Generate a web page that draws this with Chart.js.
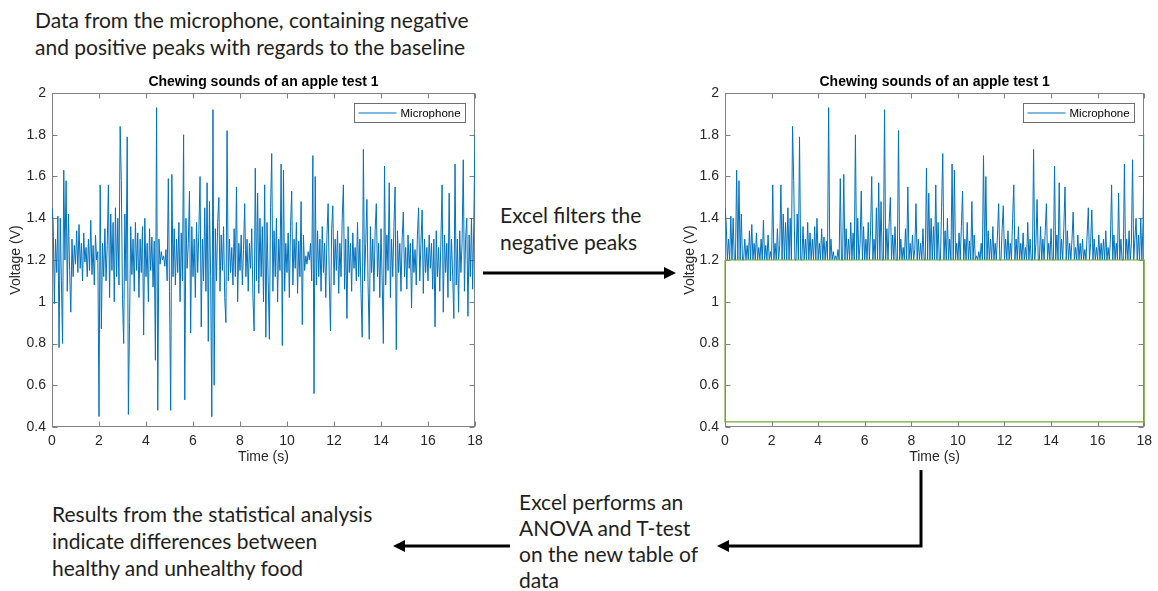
<!DOCTYPE html>
<html>
<head>
<meta charset="utf-8">
<script src="https://cdn.jsdelivr.net/npm/chart.js@4.4.1/dist/chart.umd.min.js"></script>
<style>
  html, body { margin: 0; padding: 0; background: #fff; }
  #page { position: relative; width: 1158px; height: 591px; overflow: hidden; }
  .chart { position: absolute; }
  .note { position: absolute; font-family: Lato, "Open Sans", sans-serif; font-size: 21px; line-height: 27px; color: #1e1e1e; white-space: nowrap; }
  svg { position: absolute; left: 0; top: 0; }
</style>
</head>
<body>
<div id="page">
  <canvas id="rawChart" class="chart" width="490" height="400" style="left:0; top:70px;"></canvas>
  <canvas id="filteredChart" class="chart" width="488" height="400" style="left:670px; top:70px;"></canvas>

  <div class="note" style="left:35px; top:6px;">Data from the microphone, containing negative<br>and positive peaks with regards to the baseline</div>
  <div class="note" style="left:500px; top:201px;">Excel filters the<br>negative peaks</div>
  <div class="note" style="left:519px; top:489px; line-height:26px;">Excel performs an<br>ANOVA and T-test<br>on the new table of<br>data</div>
  <div class="note" style="left:52px; top:500px;">Results from the statistical analysis<br>indicate differences between<br>healthy and unhealthy food</div>

  <svg width="1158" height="591">
    <g stroke="#000" stroke-width="3" fill="none">
      <line x1="483" y1="273" x2="666" y2="273"/>
      <polyline points="921,470 921,546 728,546"/>
      <line x1="510" y1="546" x2="404" y2="546"/>
    </g>
    <g fill="#000">
      <polygon points="676,273 664,267 664,279"/>
      <polygon points="717,546 729,540 729,552"/>
      <polygon points="393,546 405,540 405,552"/>
    </g>
  </svg>
</div>

<script>
// microphone voltage, one value every 0.05 s from 0 to 18 s
const sampleStep = 0.05;
const rawVoltage = [
  1.45, 1.38, 0.99, 1.30, 1.14, 1.41, 0.78, 1.40, 1.10, 0.80, 1.63, 1.20, 1.58, 1.05, 1.42, 1.15, 0.95, 1.30, 1.12, 1.27,
  1.18, 1.34, 1.14, 1.37, 1.16, 1.28, 1.10, 1.33, 1.19, 1.26, 1.12, 1.30, 1.15, 1.39, 1.13, 1.27, 1.08, 1.32, 1.20, 1.24,
  0.45, 1.56, 0.87, 1.28, 1.12, 1.35, 1.10, 1.27, 1.56, 1.02, 1.42, 1.15, 1.38, 1.00, 1.45, 1.12, 1.40, 1.08, 1.84, 1.58,
  1.01, 0.80, 1.42, 1.10, 1.79, 0.46, 0.90, 1.36, 1.13, 1.30, 1.05, 1.38, 1.15, 1.33, 1.02, 1.30, 1.14, 1.36, 0.84, 1.40,
  1.12, 1.28, 1.00, 1.35, 1.15, 1.31, 1.07, 1.29, 0.72, 1.93, 0.48, 1.30, 1.18, 1.24, 1.20, 1.22, 1.17, 1.25, 1.10, 1.59,
  1.05, 0.48, 1.61, 1.12, 1.35, 1.08, 1.30, 1.14, 1.38, 1.00, 1.33, 1.10, 1.80, 0.53, 1.40, 1.16, 1.28, 1.53, 0.85, 1.36,
  1.12, 1.30, 1.02, 1.38, 1.14, 1.34, 1.60, 0.88, 1.30, 1.10, 1.45, 1.05, 1.57, 0.81, 1.48, 1.12, 0.45, 1.92, 0.60, 1.35,
  1.10, 1.38, 1.50, 1.05, 1.32, 1.15, 1.36, 1.02, 0.90, 1.82, 1.10, 1.30, 1.14, 1.26, 1.08, 1.35, 1.12, 1.55, 1.00, 1.28,
  1.15, 1.32, 1.08, 1.25, 1.47, 1.12, 1.30, 1.05, 1.28, 1.16, 1.35, 1.02, 0.86, 1.64, 1.10, 1.52, 1.04, 1.40, 1.12, 1.36,
  1.00, 1.56, 0.83, 1.38, 1.10, 0.82, 1.45, 1.71, 1.05, 1.34, 1.12, 1.40, 1.00, 1.30, 1.15, 1.66, 0.79, 1.63, 1.05, 1.28,
  1.14, 1.33, 1.02, 1.36, 1.53, 1.08, 1.30, 1.16, 1.38, 1.04, 1.29, 1.12, 1.48, 0.89, 1.32, 1.15, 1.22, 1.18, 1.24, 1.20,
  1.28, 1.10, 1.70, 0.56, 1.60, 1.08, 1.34, 1.12, 1.30, 1.05, 1.36, 1.14, 1.28, 1.02, 1.32, 1.47, 1.10, 0.86, 1.35, 1.46,
  1.08, 1.30, 1.15, 1.34, 1.04, 1.28, 1.12, 1.40, 1.56, 1.06, 1.30, 0.92, 1.36, 1.14, 1.28, 1.05, 1.33, 1.16, 1.26, 1.10,
  1.38, 1.12, 1.30, 1.04, 0.83, 1.73, 1.10, 1.28, 1.49, 1.08, 0.82, 1.36, 1.14, 1.30, 1.05, 1.34, 1.47, 1.12, 1.28, 1.02,
  1.35, 1.10, 0.80, 1.65, 1.08, 1.32, 1.15, 1.57, 1.02, 1.30, 1.12, 1.36, 1.55, 0.77, 1.34, 1.14, 1.28, 1.05, 1.30, 1.43,
  1.12, 1.26, 1.06, 1.32, 1.16, 1.28, 0.97, 1.30, 1.14, 1.25, 1.08, 1.32, 1.45, 1.10, 1.28, 1.44, 1.04, 1.30, 1.14, 1.26,
  1.10, 1.32, 1.16, 1.28, 1.06, 1.30, 0.88, 1.34, 1.12, 1.26, 1.05, 1.30, 1.56, 0.95, 1.32, 1.14, 1.28, 1.02, 1.52, 1.10,
  1.30, 1.12, 0.92, 1.66, 1.08, 1.30, 0.95, 1.34, 1.14, 1.28, 1.68, 1.05, 1.30, 1.40, 0.93, 1.32, 1.12, 1.40, 1.06, 1.38,
  1.80
];
const timeS = rawVoltage.map((_, i) => +(i * sampleStep).toFixed(2));

// Excel filter: everything under the baseline is set to the baseline
const baseline = 1.2;
const filteredVoltage = rawVoltage.map(v => Math.max(v, baseline));

// green outline of the filtered table
const filterBoxX = [0, 18, 18, 0, 0];
const filterBoxY = [1.2, 1.2, 0.425, 0.425, 1.2];

const xTicks = [0, 2, 4, 6, 8, 10, 12, 14, 16, 18];
const yTicks = [0.4, 0.6, 0.8, 1, 1.2, 1.4, 1.6, 1.8, 2];

const chartTitle = "Chewing sounds of an apple test 1";
const AXIS_FONT = "'Liberation Sans', Arial, sans-serif";
const LINE_BLUE = "#0072BD";

function points(xs, ys) {
  return xs.map((x, i) => ({ x: x, y: ys[i] }));
}

// MATLAB look: box round the axes and inward ticks (under the data),
// boxed legend top right (over the data)
const matlabAxes = {
  id: "matlabAxes",
  beforeDatasetsDraw(chart) {
    const { ctx, chartArea: a, scales } = chart;
    const L = 5;
    ctx.save();
    ctx.strokeStyle = "#808080";
    ctx.lineWidth = 1;
    const l = Math.round(a.left) + 0.5, r = Math.round(a.right) - 0.5;
    const t = Math.round(a.top) + 0.5, b = Math.round(a.bottom) - 0.5;
    ctx.strokeRect(l, t, r - l, b - t);
    ctx.beginPath();
    xTicks.forEach(v => {
      const px = Math.round(scales.x.getPixelForValue(v)) + 0.5;
      ctx.moveTo(px, b); ctx.lineTo(px, b - L);
      ctx.moveTo(px, t); ctx.lineTo(px, t + L);
    });
    yTicks.forEach(v => {
      const py = Math.round(scales.y.getPixelForValue(v)) + 0.5;
      ctx.moveTo(l, py); ctx.lineTo(l + L, py);
      ctx.moveTo(r, py); ctx.lineTo(r - L, py);
    });
    ctx.stroke();
    ctx.restore();
  },
  afterDatasetsDraw(chart) {
    const { ctx, chartArea: a } = chart;
    const ds = chart.data.datasets.find(d => d.label === "Microphone");
    const w = 111, h = 19;
    const bx = Math.round(a.right - 10 - w) + 0.5, by = Math.round(a.top + 10) + 0.5;
    ctx.save();
    ctx.lineWidth = 1;
    ctx.fillStyle = "#fff";
    ctx.fillRect(bx, by, w, h);
    ctx.strokeStyle = "#6e6e6e";
    ctx.strokeRect(bx, by, w, h);
    ctx.strokeStyle = ds.borderColor;
    ctx.beginPath();
    ctx.moveTo(bx + 4, by + h / 2);
    ctx.lineTo(bx + 42, by + h / 2);
    ctx.stroke();
    ctx.fillStyle = "#000";
    ctx.font = "11.5px " + AXIS_FONT;
    ctx.textBaseline = "middle";
    ctx.fillText(ds.label, bx + 46, by + h / 2 + 0.5);
    ctx.restore();
  }
};

function buildOptions(yAxisWidth, padRight, yTitlePad) {
  return {
    responsive: false,
    animation: false,
    layout: { padding: { left: 0, right: padRight, top: 0, bottom: 0 } },
    plugins: {
      legend: { display: false },
      tooltip: { enabled: false },
      title: {
        display: true,
        text: chartTitle,
        fullSize: false,
        color: "#000",
        font: { family: AXIS_FONT, size: 14, weight: "bold" },
        padding: { top: 3.5, bottom: 2.7 },
      },
    },
    scales: {
      x: {
        type: "linear",
        min: 0,
        max: 18,
        afterBuildTicks: s => { s.ticks = xTicks.map(v => ({ value: v })); },
        ticks: { color: "#262626", padding: 6, font: { family: AXIS_FONT, size: 14 } },
        grid: { display: false, drawTicks: false },
        border: { display: false },
        title: {
          display: true,
          text: "Time (s)",
          color: "#262626",
          font: { family: AXIS_FONT, size: 14 },
          padding: { top: 0, bottom: 4 },
        },
        afterFit: s => { s.height = 43; },
      },
      y: {
        type: "linear",
        min: 0.4,
        max: 2,
        afterBuildTicks: s => { s.ticks = yTicks.map(v => ({ value: v })); },
        ticks: {
          color: "#262626",
          padding: 6,
          font: { family: AXIS_FONT, size: 14 },
          callback: v => String(Math.round(v * 10) / 10),
        },
        grid: { display: false, drawTicks: false },
        border: { display: false },
        title: {
          display: true,
          text: "Voltage (V)",
          color: "#262626",
          font: { family: AXIS_FONT, size: 14 },
          padding: { top: yTitlePad, bottom: 0 },
        },
        afterFit: s => { s.width = yAxisWidth; },
      },
    },
  };
}

new Chart(document.getElementById("rawChart"), {
  type: "scatter",
  data: {
    datasets: [
      {
        label: "Microphone",
        data: points(timeS, rawVoltage),
        showLine: true,
        borderColor: LINE_BLUE,
        borderWidth: 1,
        pointRadius: 0,
        tension: 0,
      },
    ],
  },
  options: buildOptions(52, 15, 8),
  plugins: [matlabAxes],
});

new Chart(document.getElementById("filteredChart"), {
  type: "scatter",
  data: {
    datasets: [
      {
        label: "Microphone",
        data: points(timeS, filteredVoltage),
        showLine: true,
        borderColor: LINE_BLUE,
        borderWidth: 1,
        pointRadius: 0,
        tension: 0,
        order: 2,
      },
      {
        label: "Filter",
        data: points(filterBoxX, filterBoxY),
        showLine: true,
        borderColor: "#77AC30",
        borderWidth: 1.2,
        pointRadius: 0,
        tension: 0,
        clip: 2,
        order: 1,
      },
    ],
  },
  options: buildOptions(55, 9, 12),
  plugins: [matlabAxes],
});
</script>
</body>
</html>
